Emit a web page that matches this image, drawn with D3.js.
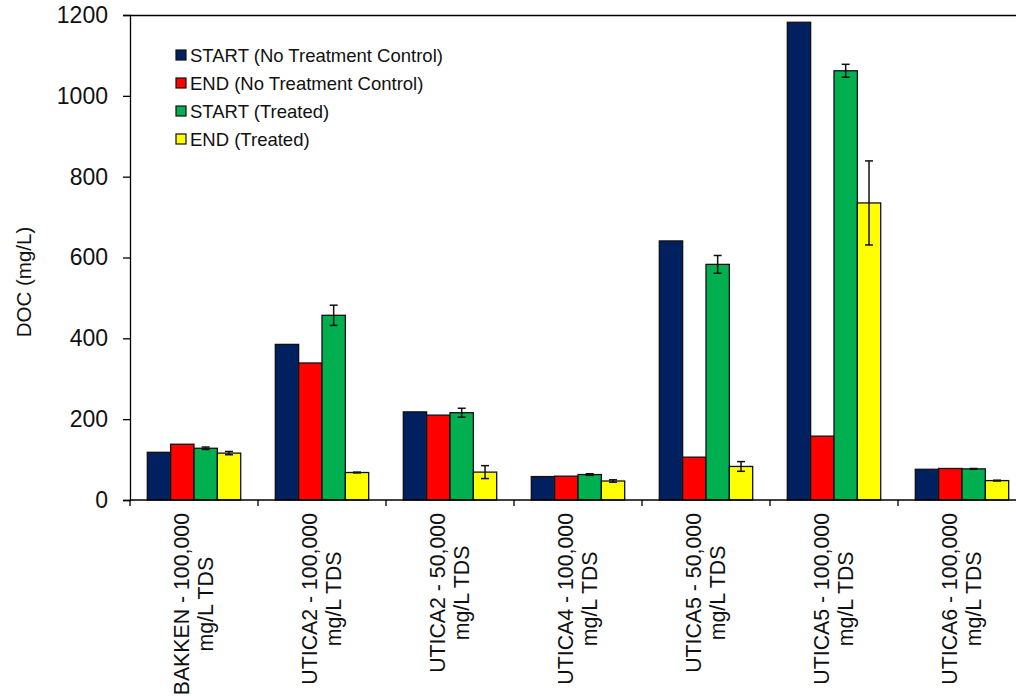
<!DOCTYPE html>
<html>
<head>
<meta charset="utf-8">
<script src="https://cdn.jsdelivr.net/npm/d3@7"></script>
<style>
  html, body { margin: 0; padding: 0; background: #fff; }
  svg { display: block; font-family: "Liberation Sans", Arial, sans-serif; }
</style>
</head>
<body>
<svg id="chart" width="1016" height="700"></svg>
<script>
// Sample groups (two-line category labels)
const categories = [
  ["BAKKEN - 100,000", "mg/L TDS"],
  ["UTICA2 - 100,000", "mg/L TDS"],
  ["UTICA2 - 50,000", "mg/L TDS"],
  ["UTICA4 - 100,000", "mg/L TDS"],
  ["UTICA5 - 50,000", "mg/L TDS"],
  ["UTICA5 - 100,000", "mg/L TDS"],
  ["UTICA6 - 100,000", "mg/L TDS"]
];

const seriesNames = [
  "START (No Treatment Control)",
  "END (No Treatment Control)",
  "START (Treated)",
  "END (Treated)"
];
const seriesColors = ["#002060", "#FF0000", "#00B050", "#FFFF00"];

// DOC (mg/L) per series, one value per category
const startControl = [118, 385, 218, 58, 641, 1182, 76];
const endControl   = [138, 339, 210, 59, 106, 158, 78];
const startTreated = [128, 457, 216, 63, 583, 1062, 77];
const endTreated   = [116, 68, 69, 47, 83, 735, 48];

// Error bar half-widths (null = no error bar)
const startTreatedErr = [3, 25, 11, 2, 22, 16, 1];
const endTreatedErr   = [4, 1, 16, 3, 12, 104, 1];

const yTicks = [0, 200, 400, 600, 800, 1000, 1200];

const seriesValues = [startControl, endControl, startTreated, endTreated];
const seriesErrors = [null, null, startTreatedErr, endTreatedErr];

const svg = d3.select("#chart");
const plotLeft = 130, plotTop = 15, plotBottom = 500, groupW = 128;

const x = d3.scaleBand()
  .domain(d3.range(categories.length))
  .range([plotLeft, plotLeft + groupW * categories.length])
  .paddingInner(0).paddingOuter(0);

const xs = d3.scaleBand()
  .domain(d3.range(seriesNames.length))
  .range([17.3, groupW - 17.3]);

const y = d3.scaleLinear().domain([0, 1200]).range([plotBottom, plotTop]);

// Top frame line
svg.append("line")
  .attr("x1", plotLeft).attr("x2", 1016)
  .attr("y1", plotTop + 0.5).attr("y2", plotTop + 0.5)
  .attr("stroke", "#000").attr("stroke-width", 1.3);

// Bars
const groups = svg.append("g").selectAll("g")
  .data(categories)
  .join("g")
  .attr("transform", (d, i) => `translate(${x(i)},0)`);

seriesValues.forEach((vals, s) => {
  groups.append("rect")
    .attr("x", (d, i) => xs(s))
    .attr("width", xs.bandwidth())
    .attr("y", (d, i) => y(vals[i]))
    .attr("height", (d, i) => y(0) - y(vals[i]))
    .attr("fill", seriesColors[s])
    .attr("stroke", "#111")
    .attr("stroke-width", 1.3);
});

// Error bars
seriesErrors.forEach((errs, s) => {
  if (!errs) return;
  const vals = seriesValues[s];
  groups.each(function (d, i) {
    const e = errs[i];
    if (e == null) return;
    const g = d3.select(this);
    const cx = xs(s) + xs.bandwidth() / 2;
    const y1 = y(vals[i] + e), y2 = y(vals[i] - e);
    g.append("line").attr("x1", cx).attr("x2", cx).attr("y1", y1).attr("y2", y2)
      .attr("stroke", "#111").attr("stroke-width", 1.5);
    [y1, y2].forEach(yy => {
      g.append("line").attr("x1", cx - 4).attr("x2", cx + 4).attr("y1", yy).attr("y2", yy)
        .attr("stroke", "#111").attr("stroke-width", 1.5);
    });
  });
});

// Y axis
const yAxis = svg.append("g")
  .attr("transform", `translate(${plotLeft},0)`)
  .call(d3.axisLeft(y).tickValues(yTicks).tickSize(7).tickPadding(15).tickFormat(d3.format("d")));
yAxis.select(".domain").attr("stroke", "#000").attr("stroke-width", 1.3);
yAxis.selectAll(".tick line").attr("stroke", "#000").attr("stroke-width", 1.3);
yAxis.selectAll(".tick text")
  .attr("font-size", 23).attr("fill", "#111")
  .attr("font-family", "Liberation Sans, Arial, sans-serif");

// X axis
const xAxis = svg.append("g")
  .attr("transform", `translate(0,${plotBottom})`);
xAxis.append("line")
  .attr("x1", plotLeft).attr("x2", 1016).attr("y1", 0).attr("y2", 0)
  .attr("stroke", "#000").attr("stroke-width", 1.3);
xAxis.selectAll("line.tk")
  .data(d3.range(categories.length + 1))
  .join("line").attr("class", "tk")
  .attr("x1", d => plotLeft + d * groupW).attr("x2", d => plotLeft + d * groupW)
  .attr("y1", 0).attr("y2", 6)
  .attr("stroke", "#000").attr("stroke-width", 1.3);

// Category labels, rotated, lines centred on each other
categories.forEach((lines, i) => {
  const cx = x(i) + groupW / 2;
  const g = svg.append("g").attr("transform", `translate(${cx},${plotBottom + 13}) rotate(-90)`);
  const texts = lines.map((t, k) => g.append("text")
    .attr("y", (k - 0.5) * 23.5)
    .attr("dominant-baseline", "central")
    .attr("text-anchor", "middle")
    .attr("font-size", 21.3).attr("fill", "#111")
    .text(t));
  const maxLen = d3.max(texts, t => t.node().getComputedTextLength());
  texts.forEach(t => t.attr("x", -maxLen / 2));
});

// Y axis title
svg.append("text")
  .attr("transform", "translate(23,282) rotate(-90)")
  .attr("text-anchor", "middle")
  .attr("dominant-baseline", "central")
  .attr("font-size", 20.5).attr("fill", "#111")
  .text("DOC (mg/L)");

// Legend
const legend = svg.append("g").attr("transform", "translate(176,55)");
seriesNames.forEach((name, s) => {
  const row = legend.append("g").attr("transform", `translate(0,${s * 28})`);
  row.append("rect").attr("x", 0).attr("y", -5).attr("width", 10).attr("height", 10)
    .attr("fill", seriesColors[s]).attr("stroke", "#111").attr("stroke-width", 1.2);
  row.append("text").attr("x", 14).attr("y", 0)
    .attr("dominant-baseline", "central")
    .attr("font-size", 18.5).attr("fill", "#111")
    .text(name);
});
</script>
</body>
</html>
